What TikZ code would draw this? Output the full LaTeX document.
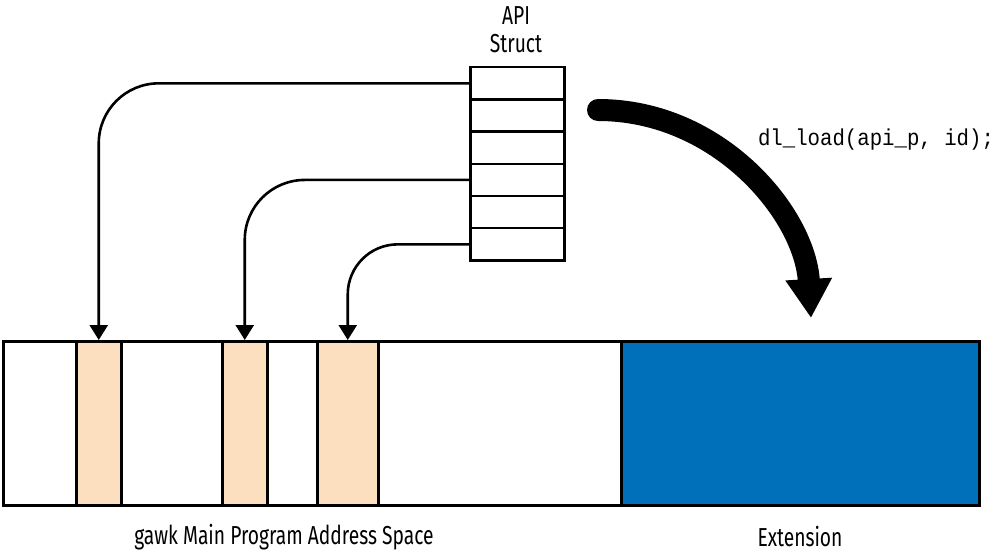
\documentclass[tikz,border=0pt]{standalone}
\usepackage{fontspec}
\setmainfont[FakeStretch=0.74]{Fira Sans}
\setmonofont[FakeStretch=0.9]{Liberation Mono}
\usetikzlibrary{arrows.meta}
\definecolor{peach}{RGB}{252,223,190}
\definecolor{extblue}{RGB}{0,112,187}
\begin{document}
\begin{tikzpicture}[x=1pt,y=-1pt,
  box/.style={draw=black, line width=2.5pt, inner sep=0pt, anchor=north west},
  row/.style={box, minimum width=94pt, minimum height=32.2pt},
  stripe/.style={box, fill=peach, minimum height=164pt},
  conn/.style={draw=black, line width=2.6pt, -{Triangle[length=15pt,width=18pt]}},
  lbl/.style={font=\fontsize{26}{28}\selectfont, inner sep=0pt, align=center}]
\useasboundingbox (0,0) rectangle (1000,553);
% address space bar
\node[box, minimum width=976pt, minimum height=164pt] (bar) at (2,340) {};
\node[box, fill=extblue, minimum width=358pt, minimum height=164pt] (ext) at (620,340) {};
\node[stripe, minimum width=45pt] (s1) at (75,340) {};
\node[stripe, minimum width=45pt] (s2) at (221,340) {};
\node[stripe, minimum width=61pt] (s3) at (316,340) {};
% API struct
\foreach \i in {1,...,6}{
  \node[row] (r\i) at (469,{66+32.2*(\i-1)}) {};
}
\node[lbl] (api) at (516,30) {API\\Struct};
% connectors
\draw[conn, rounded corners=60pt] (r1.west) -| (s1.north);
\draw[conn, rounded corners=60pt] (r4.west) -| (s2.north);
\draw[conn, rounded corners=50pt] (r6.west) -| (s3.north);
% big arrow
\coordinate (bs) at (598,110);
\coordinate (be) at (811,318);
\draw[line width=22pt, line cap=round, -{Triangle[length=39pt,width=44pt]}]
  (bs) .. controls (720,110) and (805,215) .. (be);
\node[font=\ttfamily\fontsize{23}{26}\selectfont, inner sep=0pt] (dl) at (876,140) {dl\_load(api\_p, id);};
% labels
\node[lbl] (gawk) at (284,537) {gawk Main Program Address Space};
\node[lbl] (extl) at (800,537) {Extension};
\end{tikzpicture}
\end{document}
